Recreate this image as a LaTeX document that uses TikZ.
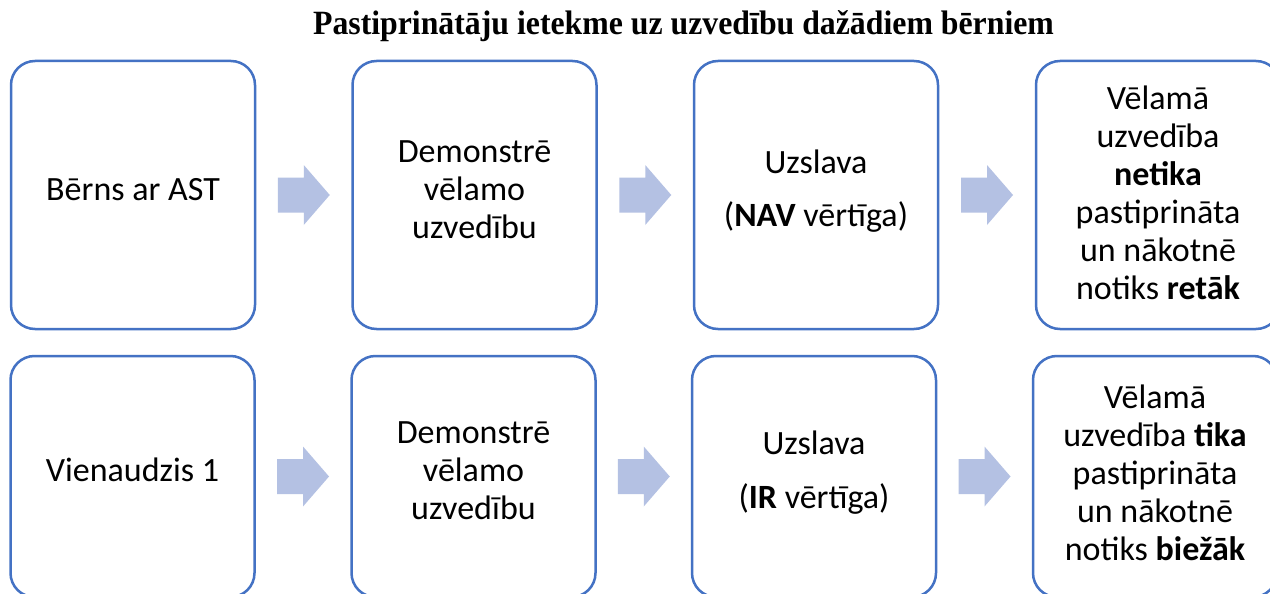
\documentclass[tikz,border=0pt]{standalone}
\usepackage{fontspec}
\setmainfont{Carlito}
\newfontfamily\titlefont{Liberation Serif}
\usetikzlibrary{calc}
\definecolor{boxblue}{RGB}{68,114,196}
\definecolor{arrowfill}{RGB}{180,193,227}
\newcommand\ls{\rule[-14pt]{0pt}{38pt}}
\newcommand\lsx[1]{\rule[-14pt]{0pt}{\dimexpr38pt+#1\relax}}
\begin{document}
\begin{tikzpicture}[x=1pt,y=-1pt,
  card/.style={draw=boxblue, line width=2.5pt, rounded corners=24pt, fill=white,
    inner sep=0pt, align=center, minimum width=244pt,
    font=\fontsize{34}{38}\selectfont},
  toprow/.style={card, minimum height=268pt},
  botrow/.style={card, minimum height=241pt},
  heading/.style={font=\titlefont\bfseries\fontsize{34}{40}\selectfont, inner sep=0pt, anchor=base},
  bigarrow/.pic={\fill[arrowfill] (-26,-17.5) -- (0,-17.5) -- (0,-30) -- (26,0) -- (0,30) -- (0,17.5) -- (-26,17.5) -- cycle;}
]
\clip (0,0) rectangle (1270,594);
\fill[white] (0,0) rectangle (1270,594);
\node[heading] (title) at (683.5,35) {\scalebox{0.935}[1]{Pastiprinātāju ietekme uz uzvedību dažādiem bērniem}};

% row 1
\node[toprow] (a1) at (133,195) {\ls Bērns ar AST};
\node[toprow] (a2) at (474.5,195) {\ls Demonstrē\\\ls vēlamo\\\ls uzvedību};
\node[toprow] (a3) at (816,195) {\ls Uzslava\\[14pt]\ls (\textbf{NAV} vērtīga)};
\node[toprow] (a4) at (1158,195) {\lsx{9pt}Vēlamā\\\ls uzvedība\\\ls \textbf{netika}\\\ls pastiprināta\\\ls un nākotnē\\\ls notiks \textbf{retāk}};

% row 2
\node[botrow] (b1) at (132.5,476.5) {\ls Vienaudzis 1};
\node[botrow] (b2) at (473.5,476.5) {\ls Demonstrē\\\ls vēlamo\\\ls uzvedību};
\node[botrow] (b3) at (814,476.5) {\ls Uzslava\\[14pt]\ls (\textbf{IR} vērtīga)};
\node[botrow] (b4) at (1155,476.5) {\lsx{5pt}Vēlamā\\\ls uzvedība \textbf{tika}\\\ls pastiprināta\\\ls un nākotnē\\\ls notiks \textbf{biežāk}};

% arrows
\pic at ($(a1.east)!0.5!(a2.west)$) {bigarrow};
\pic at ($(a2.east)!0.5!(a3.west)$) {bigarrow};
\pic at ($(a3.east)!0.5!(a4.west)$) {bigarrow};
\pic at ($(b1.east)!0.5!(b2.west)$) {bigarrow};
\pic at ($(b2.east)!0.5!(b3.west)$) {bigarrow};
\pic at ($(b3.east)!0.5!(b4.west)$) {bigarrow};
\end{tikzpicture}
\end{document}
